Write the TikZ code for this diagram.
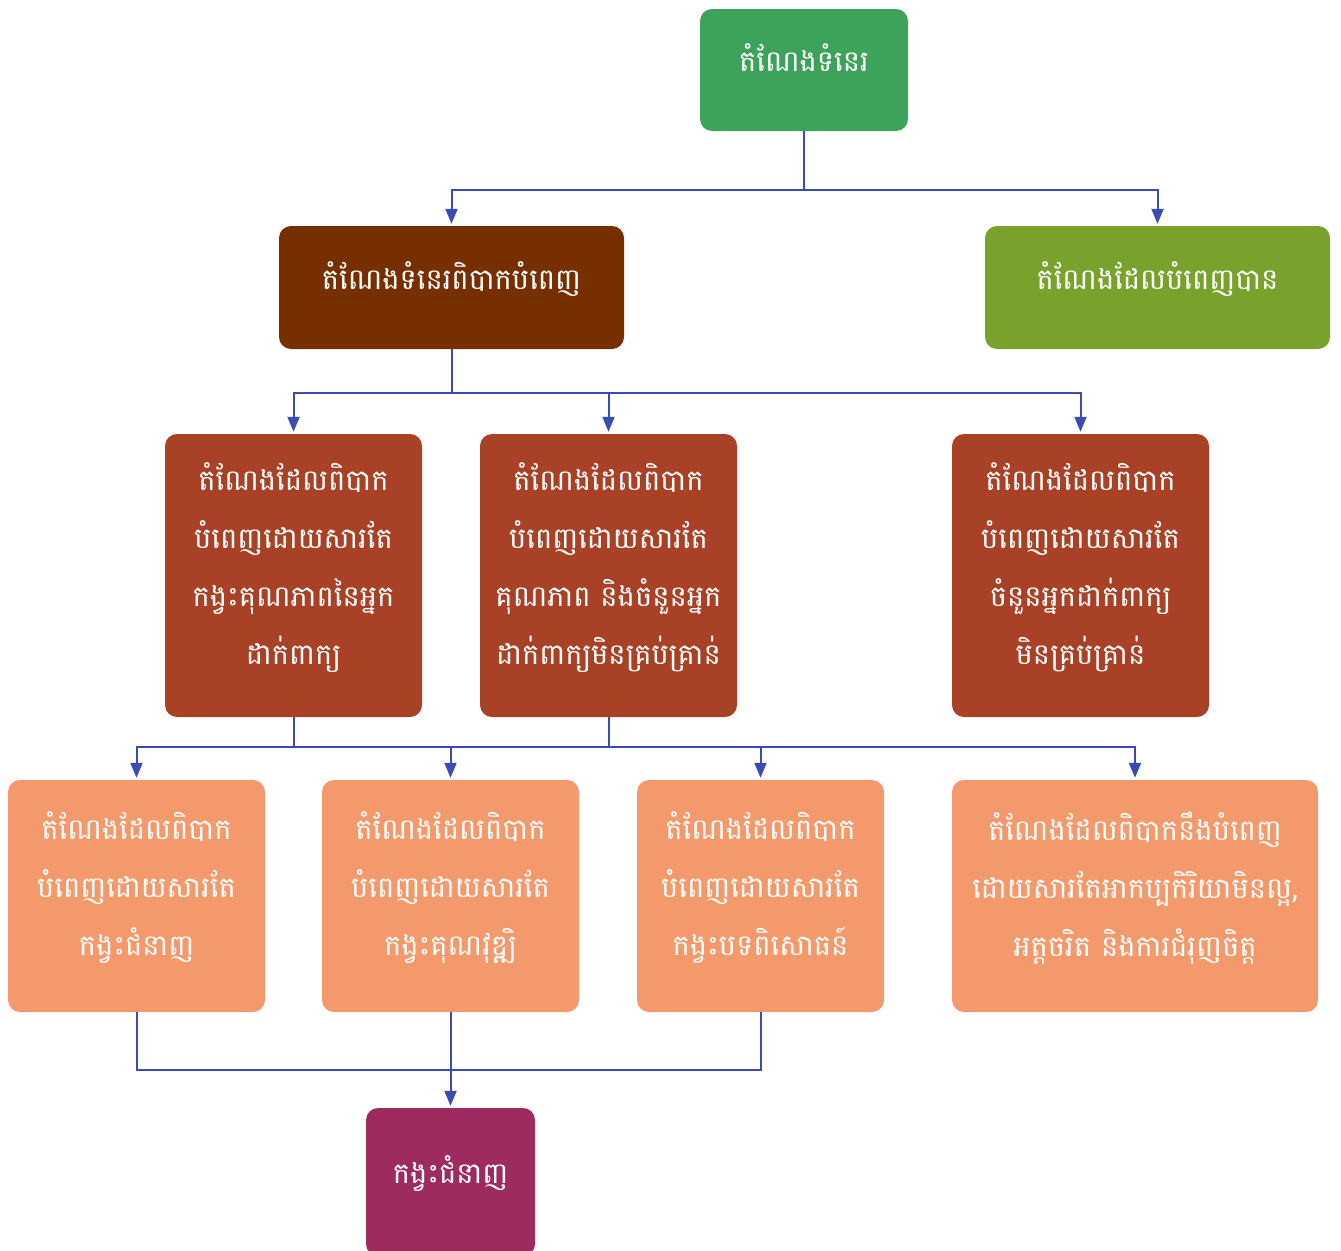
\documentclass[tikz,border=0pt]{standalone}
\usepackage{fontspec}
\usepackage{xcolor}
\usepackage{tikz}
\usetikzlibrary{arrows.meta}
\newfontfamily\khmerfont[Script=Khmer]{Battambang}
\definecolor{VacGreen}{RGB}{61,163,90}
\definecolor{HardBrown}{RGB}{119,47,0}
\definecolor{FillOlive}{RGB}{120,162,43}
\definecolor{CauseRust}{RGB}{168,65,37}
\definecolor{LackPeach}{RGB}{244,153,107}
\definecolor{SkillPlum}{RGB}{157,43,95}
\definecolor{LinkBlue}{RGB}{58,76,180}
\tikzset{
    boxnode/.style={
        rounded corners=12pt, text=white, align=center, inner sep=0pt,
        font=\khmerfont\fontsize{29}{58}\selectfont, text depth=24pt
    },
    link/.style={
        line width=2pt, LinkBlue
    },
    ptr/.style={
        link, -{Triangle[length=15pt,width=12pt]}, shorten >=2pt
    }
}
\begin{document}
\begin{tikzpicture}[x=1pt, y=-1pt]
    \clip (0,0) rectangle (1341,1250);

    % --- ថ្នាក់ទី ១ និង ២ ---
    \node[boxnode, fill=VacGreen, minimum width=208pt, minimum height=122pt] (top) at (804,70) {តំណែងទំនេរ};
    \node[boxnode, fill=HardBrown, minimum width=345pt, minimum height=123pt] (hard) at (451.5,287.5) {តំណែងទំនេរពិបាកបំពេញ};
    \node[boxnode, fill=FillOlive, minimum width=345pt, minimum height=123pt] (filled) at (1157.5,287.5) {តំណែងដែលបំពេញបាន};

    % --- មូលហេតុ ---
    \node[boxnode, fill=CauseRust, minimum width=257pt, minimum height=283pt] (quality) at (293.5,575.5)
        {តំណែងដែលពិបាក\\បំពេញដោយសារតែ\\កង្វះគុណភាពនៃអ្នក\\ដាក់ពាក្យ};
    \node[boxnode, fill=CauseRust, minimum width=257pt, minimum height=283pt] (both) at (608.5,575.5)
        {តំណែងដែលពិបាក\\បំពេញដោយសារតែ\\គុណភាព និងចំនួនអ្នក\\ដាក់ពាក្យមិនគ្រប់គ្រាន់};
    \node[boxnode, fill=CauseRust, minimum width=257pt, minimum height=283pt] (count) at (1080.5,575.5)
        {តំណែងដែលពិបាក\\បំពេញដោយសារតែ\\ចំនួនអ្នកដាក់ពាក្យ\\មិនគ្រប់គ្រាន់};

    % --- កង្វះ ---
    \node[boxnode, fill=LackPeach, minimum width=257pt, minimum height=232pt] (skill) at (136.5,896)
        {តំណែងដែលពិបាក\\បំពេញដោយសារតែ\\កង្វះជំនាញ};
    \node[boxnode, fill=LackPeach, minimum width=257pt, minimum height=232pt] (degree) at (450.5,896)
        {តំណែងដែលពិបាក\\បំពេញដោយសារតែ\\កង្វះគុណវុឌ្ឍិ};
    \node[boxnode, fill=LackPeach, minimum width=247pt, minimum height=232pt] (exper) at (760.5,896)
        {តំណែងដែលពិបាក\\បំពេញដោយសារតែ\\កង្វះបទពិសោធន៍};
    \node[boxnode, fill=LackPeach, minimum width=366pt, minimum height=232pt] (attit) at (1135,896)
        {តំណែងដែលពិបាកនឹងបំពេញ\\ដោយសារតែអាកប្បកិរិយាមិនល្អ,\\អត្តចរិត និងការជំរុញចិត្ត};

    \node[boxnode, fill=SkillPlum, minimum width=169pt, minimum height=148pt] (gap) at (450.5,1182) {កង្វះជំនាញ};

    % ខ្សែភ្ជាប់
    \draw[link] (top.south) -- ++(0,59) coordinate (busA);
    \draw[ptr] (busA) -| (hard.north);
    \draw[ptr] (busA) -| (filled.north);

    \draw[link] (hard.south) -- ++(0,44) coordinate (busB);
    \foreach \n in {quality,both,count}
        \draw[ptr] (busB) -| (\n.north);

    \draw[link] (quality.south) -- ++(0,30) coordinate (busC);
    \draw[link] (both.south) -- (both.south |- busC);
    \foreach \n in {skill,degree,exper,attit}
        \draw[ptr] (busC) -| (\n.north);

    \draw[link] (skill.south) -- ++(0,58) coordinate (busD) -| (exper.south);
    \draw[ptr] (degree.south) -- (gap.north);
\end{tikzpicture}
\end{document}
